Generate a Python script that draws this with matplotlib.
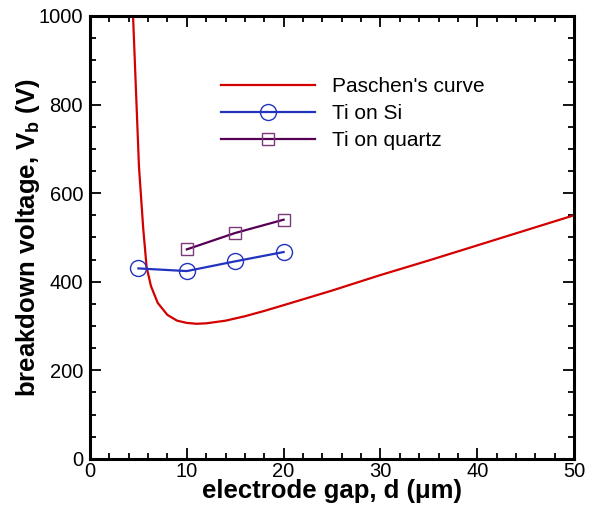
import matplotlib
matplotlib.use("Agg")
import matplotlib.pyplot as plt
from matplotlib.ticker import MultipleLocator

plt.rcParams.update({"font.family": "Liberation Sans",
                     "mathtext.fontset": "custom",
                     "mathtext.rm": "Liberation Sans",
                     "mathtext.bf": "Liberation Sans:bold",
                     "mathtext.it": "Liberation Sans:italic"})

# Paschen's curve
paschen_d = [4.45, 4.7, 5.06, 5.5, 5.85, 6.3, 7.0, 8.0, 9.0, 10.0, 11.0, 12.0,
             14.0, 16.0, 18.0, 20.0, 25.0, 30.0, 35.0, 40.0, 45.0, 50.0]
paschen_v = [1000, 860, 660, 520, 433, 390, 352, 325, 312, 307, 305, 306,
             312, 322, 334, 347, 380, 415, 448, 482, 516, 550]

si_d = [5, 10, 15, 20]
si_v = [430, 424, 446, 467]

quartz_d = [10, 15, 20]
quartz_v = [473, 510, 540]

fig = plt.figure(figsize=(5.9, 5.15), dpi=100)
ax = fig.add_axes([0.1525, 0.109, 0.8205, 0.860])

ax.plot(paschen_d, paschen_v, color="#d40000", lw=1.6, label="Paschen's curve")
ax.plot(si_d, si_v, color="#2233c0", lw=1.6, marker="o", ms=11.5,
        mfc="none", mec="#2233c0", mew=1.0, label="Ti on Si")
ax.plot(quartz_d, quartz_v, color="#550055", lw=1.6, marker="s", ms=8.5,
        mfc="none", mec="#7a3a7a", mew=1.0, label="Ti on quartz")

ax.set_xlim(0, 50)
ax.set_ylim(0, 1000)
ax.xaxis.set_major_locator(MultipleLocator(10))
ax.xaxis.set_minor_locator(MultipleLocator(2))
ax.yaxis.set_major_locator(MultipleLocator(200))
ax.yaxis.set_minor_locator(MultipleLocator(50))
ax.tick_params(which="both", direction="in", top=True, right=True,
               width=1.3, labelsize=14.5)
ax.tick_params(axis="x", pad=2)
ax.tick_params(axis="y", pad=5)
ax.tick_params(which="major", length=8)
ax.tick_params(which="minor", length=4)
for s in ax.spines.values():
    s.set_linewidth(2.2)

ax.set_xlabel("electrode gap, d (μm)", fontsize=18.5, fontweight="bold",
              labelpad=-1)
ax.set_ylabel(r"breakdown voltage, V$_{\mathbf{b}}$ (V)", fontsize=18.5,
              fontweight="bold")
ax.yaxis.set_label_coords(-0.1, 0.5)

ax.legend(loc="upper left", bbox_to_anchor=(0.27, 0.862), frameon=False,
          fontsize=15, numpoints=1, handlelength=4.55, handletextpad=0.8,
          labelspacing=0.38, borderpad=0, borderaxespad=0)

fig.savefig("out.png", dpi=100, facecolor="white")
